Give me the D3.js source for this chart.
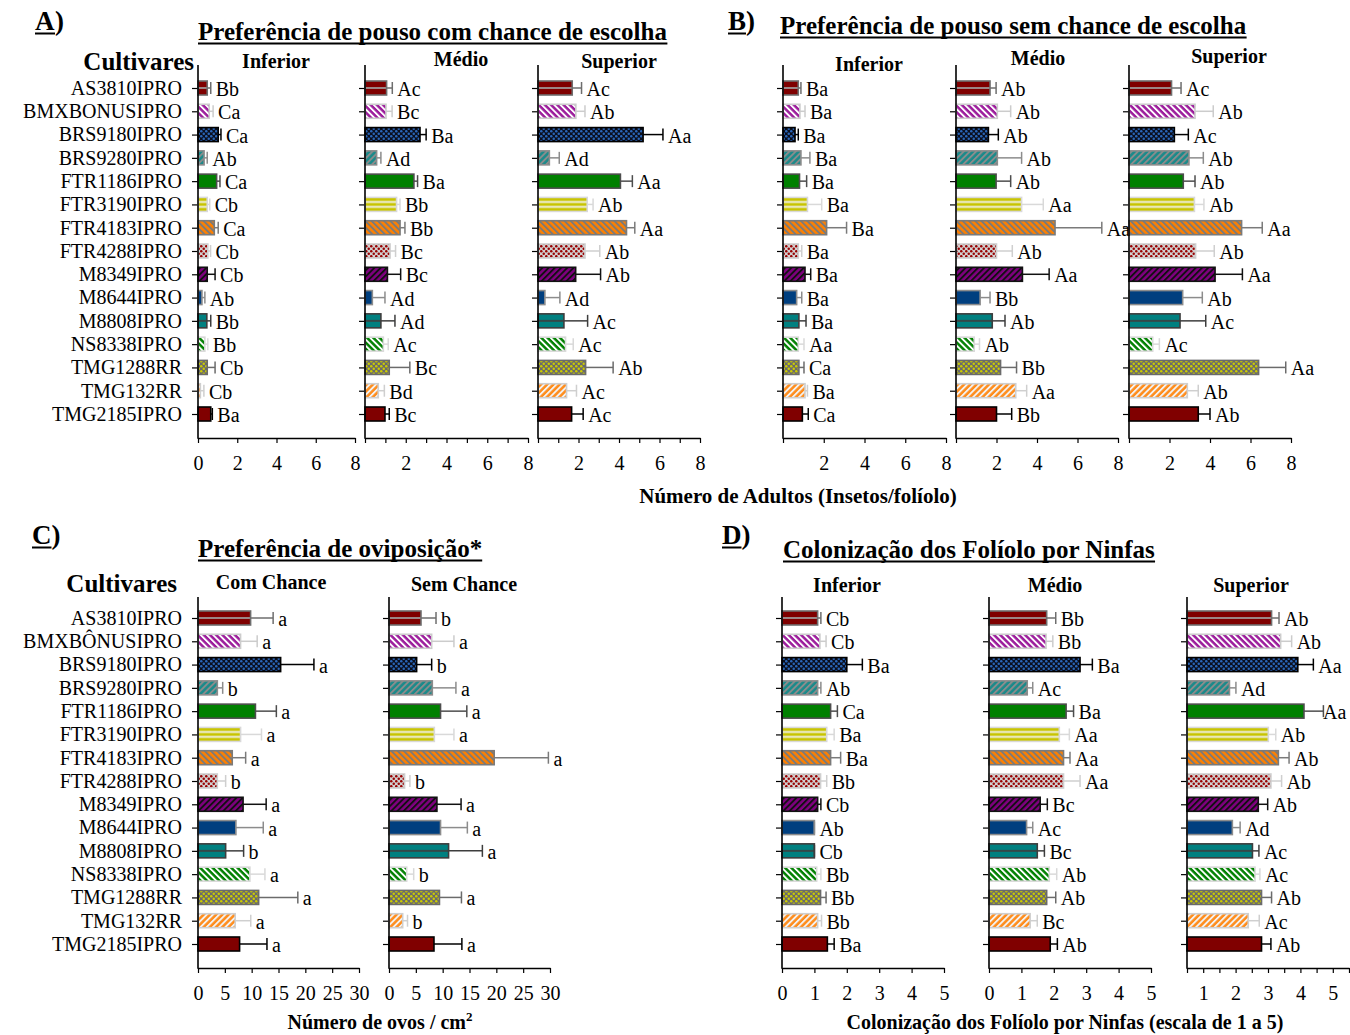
<!DOCTYPE html>
<html><head><meta charset="utf-8">
<script src="https://cdn.jsdelivr.net/npm/d3@7"></script>
<style>
body{margin:0;background:#fff}
svg{display:block}
text{font-family:"Liberation Serif","Times New Roman",serif;fill:#000}
</style>
</head><body>
<svg id="c" width="1350" height="1035"></svg>
<script>
// ---------------- DATA ----------------
const cultivars = ["AS3810IPRO","BMXBONUSIPRO","BRS9180IPRO","BRS9280IPRO","FTR1186IPRO","FTR3190IPRO","FTR4183IPRO","FTR4288IPRO","M8349IPRO","M8644IPRO","M8808IPRO","NS8338IPRO","TMG1288RR","TMG132RR","TMG2185IPRO"];
const cultivarsC = ["AS3810IPRO","BMXBÔNUSIPRO","BRS9180IPRO","BRS9280IPRO","FTR1186IPRO","FTR3190IPRO","FTR4183IPRO","FTR4288IPRO","M8349IPRO","M8644IPRO","M8808IPRO","NS8338IPRO","TMG1288RR","TMG132RR","TMG2185IPRO"];

// A) Preferência de pouso com chance de escolha
const aInfMean = [0.47,0.57,1.03,0.31,0.95,0.47,0.83,0.50,0.47,0.20,0.45,0.35,0.47,0.12,0.65];
const aInfSE   = [0.18,0.20,0.14,0.16,0.17,0.13,0.20,0.14,0.40,0.15,0.20,0.15,0.40,0.18,0.08];
const aInfLet  = ["Bb","Ca","Ca","Ab","Ca","Cb","Ca","Cb","Cb","Ab","Bb","Bb","Cb","Cb","Ba"];
const aMedMean = [1.06,1.03,2.70,0.57,2.40,1.55,1.72,1.23,1.10,0.36,0.78,0.90,1.19,0.65,0.98];
const aMedSE   = [0.28,0.30,0.30,0.21,0.18,0.17,0.24,0.27,0.65,0.62,0.69,0.24,1.01,0.30,0.21];
const aMedLet  = ["Ac","Bc","Ba","Ad","Ba","Bb","Bb","Bc","Bc","Ad","Ad","Ac","Bc","Bd","Bc"];
const aSupMean = [1.69,1.87,5.19,0.56,4.07,2.43,4.37,2.32,1.86,0.34,1.28,1.36,2.35,1.41,1.66];
const aSupSE   = [0.46,0.45,0.98,0.49,0.59,0.29,0.41,0.73,1.23,0.74,1.17,0.38,1.36,0.49,0.57];
const aSupLet  = ["Ac","Ab","Aa","Ad","Aa","Ab","Aa","Ab","Ab","Ad","Ac","Ac","Ab","Ac","Ac"];

// B) Preferência de pouso sem chance de escolha
const bInfMean = [0.75,0.83,0.59,0.88,0.81,1.20,2.14,0.75,1.08,0.67,0.78,0.75,0.78,1.08,0.95];
const bInfSE   = [0.13,0.25,0.16,0.44,0.35,0.70,0.98,0.17,0.28,0.25,0.35,0.28,0.25,0.12,0.29];
const bInfLet  = ["Ba","Ba","Ba","Ba","Ba","Ba","Ba","Ba","Ba","Ba","Ba","Aa","Ca","Ba","Ca"];
const bMedMean = [1.68,2.04,1.60,2.04,1.98,3.24,4.89,2.00,3.28,1.19,1.79,0.90,2.20,2.95,2.00];
const bMedSE   = [0.30,0.66,0.49,1.20,0.72,1.07,2.31,0.78,1.32,0.49,0.63,0.26,0.79,0.54,0.75];
const bMedLet  = ["Ab","Ab","Ab","Ab","Ab","Aa","Aa","Ab","Aa","Bb","Ab","Ab","Bb","Aa","Bb"];
const bSupMean = [2.10,3.26,2.24,2.96,2.68,3.23,5.56,3.29,4.25,2.65,2.52,1.17,6.40,2.88,3.42];
const bSupSE   = [0.47,0.90,0.69,0.71,0.58,0.47,1.02,0.92,1.35,0.97,1.27,0.33,1.34,0.54,0.58];
const bSupLet  = ["Ac","Ab","Ac","Ab","Ab","Ab","Aa","Ab","Aa","Ab","Ac","Ac","Aa","Ab","Ab"];

// C) Preferência de oviposição
const cComMean = [9.8,7.93,15.4,3.6,10.7,7.93,6.38,3.6,8.4,7.06,5.15,9.67,11.3,6.93,7.75];
const cComSE   = [4.2,3.1,6.2,1.0,3.9,3.9,2.5,1.55,4.3,5.1,3.35,2.8,7.3,2.9,5.1];
const cComLet  = ["a","a","a","b","a","a","a","b","a","a","b","a","a","a","a"];
const cSemMean = [5.96,7.95,5.15,8.07,9.6,8.45,19.6,2.9,8.93,9.6,11.1,3.3,9.4,2.55,8.38];
const cSemSE   = [2.8,4.15,2.8,4.4,4.9,3.65,10.1,1.0,4.5,5.0,6.3,1.3,4.1,0.9,5.2];
const cSemLet  = ["b","a","b","a","a","a","a","b","a","a","a","b","a","b","a"];

// D) Colonização dos folíolos por ninfas
const dInfMean = [1.10,1.17,2.00,1.10,1.50,1.38,1.50,1.19,1.10,1.00,1.00,1.07,1.19,1.10,1.40];
const dInfSE   = [0.10,0.19,0.48,0.10,0.21,0.23,0.31,0.19,0.10,0.00,0.00,0.13,0.17,0.12,0.21];
const dInfLet  = ["Cb","Cb","Ba","Ab","Ca","Ba","Ba","Bb","Cb","Ab","Cb","Bb","Bb","Bb","Ba"];
const dMedMean = [1.78,1.76,2.81,1.18,2.38,2.17,2.30,2.30,1.58,1.16,1.49,1.86,1.78,1.27,1.89];
const dMedSE   = [0.28,0.21,0.38,0.17,0.23,0.31,0.20,0.51,0.22,0.19,0.22,0.23,0.28,0.22,0.22];
const dMedLet  = ["Bb","Bb","Ba","Ac","Ba","Aa","Aa","Aa","Bc","Ac","Bc","Ab","Ab","Bc","Ab"];
const dSupMean = [3.11,3.39,3.92,1.81,4.11,3.01,3.32,3.09,2.70,1.90,2.52,2.60,2.80,2.39,2.80];
const dSupSE   = [0.23,0.34,0.48,0.20,0.60,0.23,0.33,0.33,0.29,0.24,0.20,0.15,0.31,0.34,0.29];
const dSupLet  = ["Ab","Ab","Aa","Ad","Aa","Ab","Ab","Ab","Ab","Ad","Ac","Ac","Ab","Ac","Ab"];

// tick values / labels
const ticksAdult2 = [0,2,4,6,8];
const ticksAdult1 = [0,1,2,3,4,5,6,7,8];
const labelsAdultAll = [0,2,4,6,8];
const labelsAdultNo0 = [2,4,6,8];
const ticksEggs = [0,5,10,15,20,25,30];
const ticksCol = [0,1,2,3,4,5];
const ticksColSup = [0.5,1,1.5,2,2.5,3,3.5,4,4.5,5,5.5];
const labelsColSup = [1,2,3,4,5];

// ---------------- STYLE ----------------
const looks = [
 {type:"h1", bg:"#7f0000", fg:"#a0a0a0", stroke:"#6e6e6e"},
 {type:"bs", bg:"#9b1b9b", fg:"#ffffff", stroke:"#cccccc"},
 {type:"dot",bg:"#0a0f1e", fg:"#2a66b8", stroke:"#000000"},
 {type:"fs", bg:"#1a8a8a", fg:"#8c8c8c", stroke:"#8c8c8c"},
 {type:"solid", bg:"#008000", stroke:"#4d4d4d"},
 {type:"h2", bg:"#c8c400", fg:"#f2f2f2", stroke:"#d9d9d9"},
 {type:"bs", bg:"#ff8000", fg:"#7a7a7a", stroke:"#7a7a7a"},
 {type:"dot",bg:"#d0d0d0", fg:"#990000", stroke:"#cfcfcf"},
 {type:"fs", bg:"#800080", fg:"#111111", stroke:"#111111"},
 {type:"solid", bg:"#003f7f", stroke:"#8c8c8c"},
 {type:"h1", bg:"#008080", fg:"#3d3d3d", stroke:"#3d3d3d"},
 {type:"bs", bg:"#008000", fg:"#ffffff", stroke:"#d9d9d9"},
 {type:"dot",bg:"#6b6b6b", fg:"#cccc00", stroke:"#6b6b6b"},
 {type:"fs", bg:"#ff8c1a", fg:"#f2f2f2", stroke:"#cfcfcf"},
 {type:"solid", bg:"#800000", stroke:"#000000"}
];

const W = 1350;
const svg = d3.select("#c");
const defs = svg.append("defs");
looks.forEach((L,i)=>{
  if(L.type==="solid") return;
  let p;
  if(L.type==="h1"||L.type==="h2"){
    p = defs.append("pattern").attr("id","p"+i).attr("patternUnits","objectBoundingBox")
      .attr("patternContentUnits","objectBoundingBox").attr("width",1).attr("height",1);
    p.append("rect").attr("width",1).attr("height",1).attr("fill",L.bg);
    if(L.type==="h1") p.append("rect").attr("y",0.44).attr("width",1).attr("height",0.12).attr("fill",L.fg);
    else { p.append("rect").attr("y",0.26).attr("width",1).attr("height",0.13).attr("fill",L.fg);
           p.append("rect").attr("y",0.61).attr("width",1).attr("height",0.13).attr("fill",L.fg); }
  } else if(L.type==="bs"||L.type==="fs"){
    p = defs.append("pattern").attr("id","p"+i).attr("patternUnits","userSpaceOnUse")
      .attr("width",4.4).attr("height",4.4).attr("patternTransform",`rotate(${L.type==="fs"?45:-45})`);
    p.append("rect").attr("width",4.4).attr("height",4.4).attr("fill",L.bg);
    p.append("rect").attr("width",1.9).attr("height",4.4).attr("fill",L.fg);
  } else {
    p = defs.append("pattern").attr("id","p"+i).attr("patternUnits","userSpaceOnUse")
      .attr("width",5).attr("height",5);
    p.append("rect").attr("width",5).attr("height",5).attr("fill",L.bg);
    p.append("circle").attr("cx",1.25).attr("cy",1.25).attr("r",1.25).attr("fill",L.fg);
    p.append("circle").attr("cx",3.75).attr("cy",3.75).attr("r",1.25).attr("fill",L.fg);
  }
});
const fillOf = i => looks[i].type==="solid" ? looks[i].bg : `url(#p${i})`;

function panel(c){
  const x = d3.scaleLinear().domain(c.domain).range([c.x0,c.x1]);
  const y = d3.scalePoint().domain(c.cats).range([c.r0,c.r1]);
  const g = svg.append("g");
  const rows = c.cats.map((k,i)=>({k,i,m:c.mean[i],s:c.se[i],l:c.lets[i]}));
  // bottom axis
  const ax = d3.axisBottom(x).tickValues(c.ticks)
    .tickFormat(d=>c.labels.includes(d)? String(d):"").tickSize(5).tickSizeOuter(0).tickPadding(13);
  const gx = g.append("g").attr("transform",`translate(0,${c.yB})`).call(ax);
  gx.select(".domain").attr("stroke","#000").attr("stroke-width",1.6);
  gx.selectAll(".tick line").attr("stroke","#000").attr("stroke-width",1.2);
  gx.selectAll(".tick text").attr("font-size",20).attr("font-family","Liberation Serif").attr("fill","#000");
  // left axis
  const ay = d3.axisLeft(y).tickSize(6).tickPadding(10).tickFormat(c.showCats? d=>d : ()=> "");
  const gy = g.append("g").attr("transform",`translate(${c.x0},0)`).call(ay);
  gy.select(".domain").remove();
  gy.selectAll(".tick line").attr("stroke","#000").attr("stroke-width",1.2);
  gy.selectAll(".tick text").attr("font-size",20).attr("font-family","Liberation Serif").attr("fill","#000");
  // bars
  const bh = 14;
  g.selectAll(".bar").data(rows).join("rect")
    .attr("x",x(c.domain[0])).attr("y",d=>y(d.k)-bh/2)
    .attr("width",d=>Math.max(0,x(d.m)-x(c.domain[0]))).attr("height",bh)
    .attr("fill",d=>fillOf(d.i)).attr("stroke",d=>looks[d.i].stroke).attr("stroke-width",1.6);
  // error bars
  g.selectAll(".eb").data(rows).join("line")
    .attr("x1",d=>x(d.m)).attr("x2",d=>x(d.m+d.s)).attr("y1",d=>y(d.k)).attr("y2",d=>y(d.k))
    .attr("stroke",d=>looks[d.i].stroke).attr("stroke-width",1.5);
  g.selectAll(".cap").data(rows).join("line")
    .attr("x1",d=>x(d.m+d.s)).attr("x2",d=>x(d.m+d.s)).attr("y1",d=>y(d.k)-6).attr("y2",d=>y(d.k)+6)
    .attr("stroke",d=>looks[d.i].stroke).attr("stroke-width",1.5);
  // letters
  g.selectAll(".let").data(rows).join("text")
    .attr("x",d=>Math.min(x(d.m+d.s)+5, W-27)).attr("y",d=>y(d.k)+1).attr("dy","0.35em")
    .attr("font-size",20).text(d=>d.l);
  // y axis line
  g.append("line").attr("x1",c.x0).attr("x2",c.x0).attr("y1",c.yT).attr("y2",c.yB+0.8)
    .attr("stroke","#000").attr("stroke-width",1.6);
  // subplot title
  g.append("text").attr("x",c.tx).attr("y",c.ty).attr("text-anchor","middle")
    .attr("font-size",20).attr("font-weight","bold").text(c.title);
}

const AB = {yT:65, yB:438, r0:88, r1:414, cats:cultivars};
const CD = {yT:597, yB:968, r0:618, r1:944};

panel({...AB, x0:198, x1:355, domain:[0,8], ticks:ticksAdult2, labels:labelsAdultAll, showCats:true,
  mean:aInfMean, se:aInfSE, lets:aInfLet, title:"Inferior", tx:276, ty:68});
panel({...AB, x0:365, x1:528, domain:[0,8], ticks:ticksAdult1, labels:labelsAdultNo0, showCats:false,
  mean:aMedMean, se:aMedSE, lets:aMedLet, title:"Médio", tx:461, ty:66});
panel({...AB, x0:538, x1:700, domain:[0,8], ticks:ticksAdult1, labels:labelsAdultNo0, showCats:false,
  mean:aSupMean, se:aSupSE, lets:aSupLet, title:"Superior", tx:619, ty:68});

panel({...AB, x0:783, x1:946, domain:[0,8], ticks:ticksAdult2, labels:labelsAdultNo0, showCats:false,
  mean:bInfMean, se:bInfSE, lets:bInfLet, title:"Inferior", tx:869, ty:71});
panel({...AB, x0:956, x1:1118, domain:[0,8], ticks:ticksAdult2, labels:labelsAdultNo0, showCats:false,
  mean:bMedMean, se:bMedSE, lets:bMedLet, title:"Médio", tx:1038, ty:65});
panel({...AB, x0:1129, x1:1291, domain:[0,8], ticks:ticksAdult2, labels:labelsAdultNo0, showCats:false,
  mean:bSupMean, se:bSupSE, lets:bSupLet, title:"Superior", tx:1229, ty:63});

panel({...CD, cats:cultivarsC, x0:198, x1:359, domain:[0,30], ticks:ticksEggs, labels:ticksEggs, showCats:true,
  mean:cComMean, se:cComSE, lets:cComLet, title:"Com Chance", tx:271, ty:589});
panel({...CD, cats:cultivarsC, x0:389, x1:550, domain:[0,30], ticks:ticksEggs, labels:ticksEggs, showCats:false,
  mean:cSemMean, se:cSemSE, lets:cSemLet, title:"Sem Chance", tx:464, ty:591});

panel({...CD, cats:cultivars, x0:782, x1:944, domain:[0,5], ticks:ticksCol, labels:ticksCol, showCats:false,
  mean:dInfMean, se:dInfSE, lets:dInfLet, title:"Inferior", tx:847, ty:592});
panel({...CD, cats:cultivars, x0:989, x1:1151, domain:[0,5], ticks:ticksCol, labels:ticksCol, showCats:false,
  mean:dMedMean, se:dMedSE, lets:dMedLet, title:"Médio", tx:1055, ty:592});
panel({...CD, cats:cultivars, x0:1187, x1:1349, domain:[0.5,5.5], ticks:ticksColSup, labels:labelsColSup, showCats:false,
  mean:dSupMean, se:dSupSE, lets:dSupLet, title:"Superior", tx:1251, ty:592});

// ---------------- TITLES ----------------
function under(t, size, x, y, anchor){
  const el = svg.append("text").attr("x",x).attr("y",y).attr("font-size",size).attr("font-weight","bold")
    .attr("text-anchor",anchor||"start").text(t);
  const b = el.node().getBBox();
  svg.append("line").attr("x1",b.x).attr("x2",b.x+b.width).attr("y1",y+3.5).attr("y2",y+3.5)
    .attr("stroke","#000").attr("stroke-width",2);
  return el;
}
function plainBold(t,size,x,y,anchor){
  return svg.append("text").attr("x",x).attr("y",y).attr("font-size",size).attr("font-weight","bold")
    .attr("text-anchor",anchor||"start").text(t);
}
function panelLetter(L,x,y){
  const a = under(L,27,x,y);
  const w = a.node().getBBox().width;
  plainBold(")",27,x+w,y);
}
panelLetter("A",35,30);
under("Preferência de pouso com chance de escolha",25,198,40);
plainBold("Cultivares",25,194,70,"end");

panelLetter("B",728,30);
under("Preferência de pouso sem chance de escolha",25,780,34);

plainBold("Número de Adultos (Insetos/folíolo)",21,798,503,"middle");

panelLetter("C",32,544);
under("Preferência de oviposição*",25,198,557);
plainBold("Cultivares",25,177,592,"end");

const xl = svg.append("text").attr("x",380).attr("y",1029).attr("font-size",20).attr("font-weight","bold")
  .attr("text-anchor","middle");
xl.append("tspan").text("Número de ovos / cm");
xl.append("tspan").attr("font-size",13).attr("dy",-8).text("2");

panelLetter("D",722,544);
under("Colonização dos Folíolo por Ninfas",25,783,558);
plainBold("Colonização dos Folíolo por Ninfas (escala de 1 a 5)",20,1065,1029,"middle");
</script>
</body></html>
